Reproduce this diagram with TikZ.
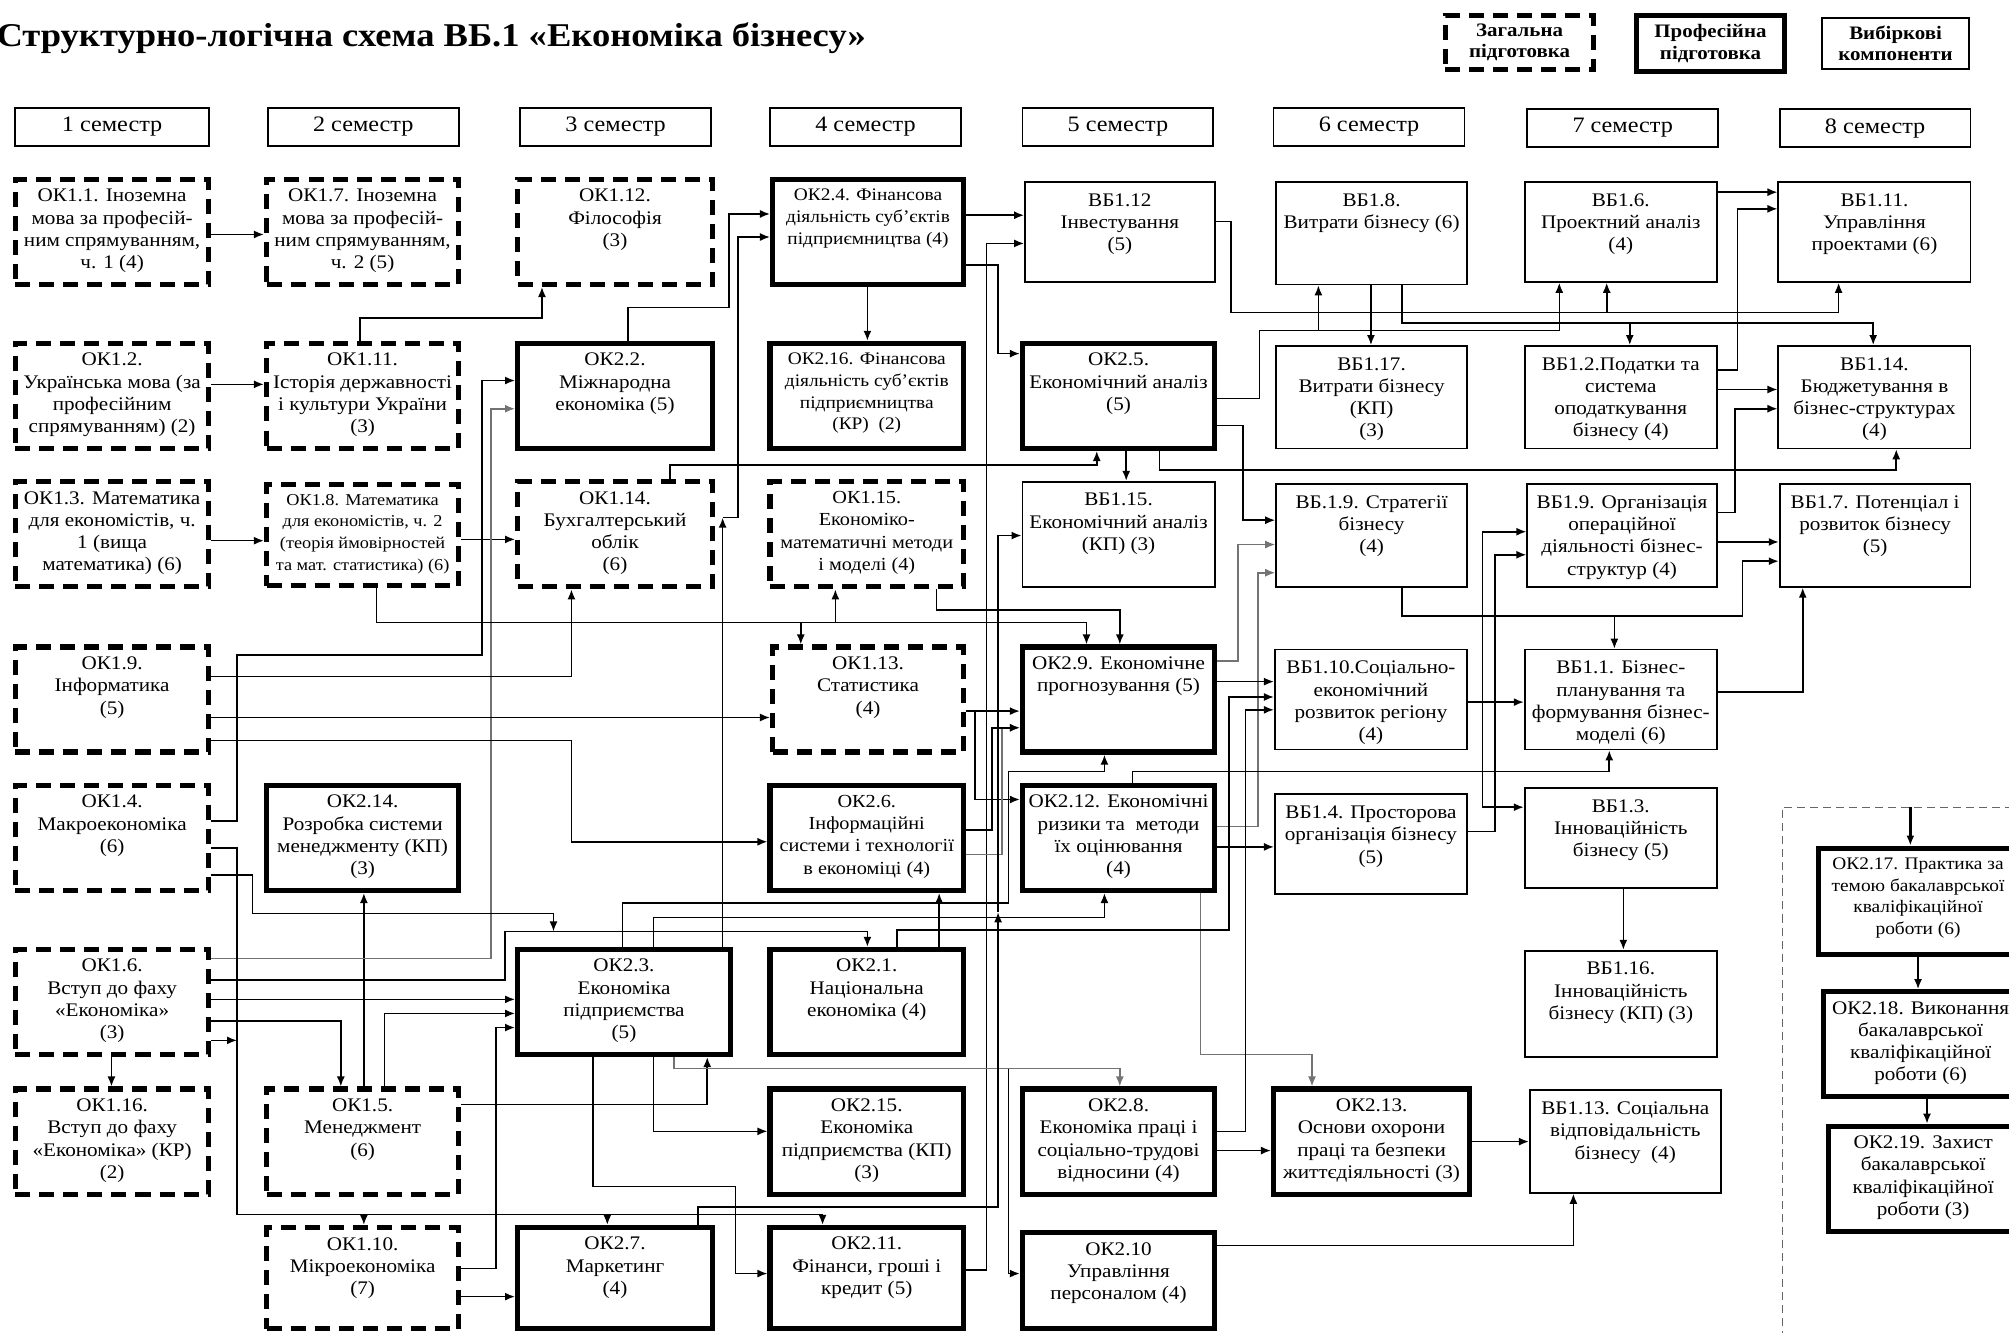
\documentclass[tikz,border=0pt]{standalone}
\usepackage{fontspec}
\setmainfont[FakeStretch=1.1]{Liberation Serif}
\usetikzlibrary{arrows.meta,fit}
\newcommand\bx[8][txt]{%
  \node[#7,fit={(#3,#4)(#5,#6)},inner sep=0pt] (#2) {};
  \node[#1,anchor=north] (#2-t) at ([yshift=-6pt]#2.north) {#8};}
\newcommand\hd[6]{%
  \node[#6,fit={(#2,#3)(#4,#5)},inner sep=0pt] (#1) {};}
\begin{document}
\begin{tikzpicture}[x=0.64pt,y=-0.64pt,
  gen/.style={draw,line width=2.6pt,dash pattern=on 7.5pt off 4.5pt},
  prof/.style={draw,line width=2.6pt},
  vib/.style={draw,line width=0.9pt},
  txt/.style={font=\fontsize{9.6}{11.1}\selectfont,align=center,inner sep=0pt},
  stxt/.style={font=\fontsize{8.8}{10.8}\selectfont,align=center,inner sep=0pt},
  sstxt/.style={font=\fontsize{8.3}{10.8}\selectfont,align=center,inner sep=0pt},
  mtxt/.style={font=\fontsize{9.2}{11.1}\selectfont,align=center,inner sep=0pt},
  htxt/.style={font=\fontsize{11}{13}\selectfont,inner sep=0pt},
  ltxt/.style={font=\bfseries\fontsize{9.5}{10.5}\selectfont,align=center,inner sep=0pt},
  con/.style={line width=0.8pt},
  arr/.style={line width=0.8pt,-{Latex[length=5pt,width=4pt]}},
  garr/.style={arr,draw=black!55},
]
\useasboundingbox (0,0) rectangle (1568,1040);
% title and legend
\node[anchor=west,font=\bfseries\fontsize{16.6}{20}\selectfont,inner sep=0pt] (title) at (-3,30) {Структурно-логічна схема ВБ.1 «Економіка бізнесу»};
\hd{lg1}{1128}{12}{1244}{54}{gen}
\hd{lg2}{1277}{12}{1393}{56}{prof}
\hd{lg3}{1422}{14}{1537}{54}{vib}
\node[ltxt] (lg1-t) at (lg1.center) {Загальна\\підготовка};
\node[ltxt] (lg2-t) at (lg2.center) {Професійна\\підготовка};
\node[ltxt] (lg3-t) at (lg3.center) {Вибіркові\\компоненти};
% semesters
\hd{s1}{12}{84}{163}{114}{vib}
\hd{s2}{209}{84}{358}{114}{vib}
\hd{s3}{406}{84}{555}{114}{vib}
\hd{s4}{601}{84}{750}{114}{vib}
\hd{s5}{798}{84}{947}{114}{vib}
\hd{s6}{994}{84}{1143}{114}{vib}
\hd{s7}{1192}{85}{1341}{115}{vib}
\hd{s8}{1389}{85}{1538}{115}{vib}
\node[htxt] (s1-t) at (s1.center) {1 семестр};
\node[htxt] (s2-t) at (s2.center) {2 семестр};
\node[htxt] (s3-t) at (s3.center) {3 семестр};
\node[htxt] (s4-t) at (s4.center) {4 семестр};
\node[htxt] (s5-t) at (s5.center) {5 семестр};
\node[htxt] (s6-t) at (s6.center) {6 семестр};
\node[htxt] (s7-t) at (s7.center) {7 семестр};
\node[htxt] (s8-t) at (s8.center) {8 семестр};
% row 1
\bx{ok11}{12}{140}{163}{222}{gen}{ОК1.1. Іноземна\\мова за професій-\\ним спрямуванням,\\ч. 1 (4)}
\bx{ok17}{208}{140}{358}{222}{gen}{ОК1.7. Іноземна\\мова за професій-\\ним спрямуванням,\\ч. 2 (5)}
\bx{ok112}{404}{140}{556}{222}{gen}{ОК1.12.\\Філософія\\(3)}
\bx[stxt]{ok24}{603}{140}{752}{222}{prof}{ОК2.4. Фінансова\\діяльність суб’єктів\\підприємництва (4)}
\bx{vb112}{800}{142}{948}{220}{vib}{ВБ1.12\\Інвестування\\(5)}
\bx{vb18}{996}{142}{1145}{222}{vib}{ВБ1.8.\\Витрати бізнесу (6)}
\bx{vb16}{1190}{142}{1340}{220}{vib}{ВБ1.6.\\Проектний аналіз\\(4)}
\bx{vb111}{1388}{142}{1538}{220}{vib}{ВБ1.11.\\Управління\\проектами (6)}
% row 2
\bx{ok12}{12}{268}{163}{350}{gen}{ОК1.2.\\Українська мова (за\\професійним\\спрямуванням) (2)}
\bx{ok111}{208}{268}{358}{350}{gen}{ОК1.11.\\Історія державності\\і культури України\\(3)}
\bx{ok22}{404}{268}{556}{350}{prof}{ОК2.2.\\Міжнародна\\економіка (5)}
\bx[stxt]{ok216}{601}{268}{752}{350}{prof}{ОК2.16. Фінансова\\діяльність суб’єктів\\підприємництва\\(КР)~~(2)}
\bx{ok25}{798}{268}{948}{350}{prof}{ОК2.5.\\Економічний аналіз\\(5)}
\bx{vb117}{996}{270}{1145}{350}{vib}{ВБ1.17.\\Витрати бізнесу\\(КП)\\(3)}
\bx{vb12}{1190}{270}{1340}{350}{vib}{ВБ1.2.Податки та\\система\\оподаткування\\бізнесу (4)}
\bx{vb114}{1388}{270}{1538}{350}{vib}{ВБ1.14.\\Бюджетування в\\бізнес-структурах\\(4)}
% row 3
\bx{ok13}{12}{376}{163}{458}{gen}{ОК1.3. Математика\\для економістів, ч.\\1 (вища\\математика) (6)}
\bx[sstxt]{ok18}{208}{378}{358}{457}{gen}{ОК1.8. Математика\\для економістів, ч. 2\\(теорія ймовірностей\\та мат. статистика) (6)}
\bx{ok114}{404}{376}{556}{458}{gen}{ОК1.14.\\Бухгалтерський\\облік\\(6)}
\bx[mtxt]{ok115}{601}{376}{752}{458}{gen}{ОК1.15.\\Економіко-\\математичні методи\\і моделі (4)}
\bx{vb115}{798}{376}{948}{458}{vib}{ВБ1.15.\\Економічний аналіз\\(КП) (3)}
\bx{vb19s}{996}{378}{1145}{458}{vib}{ВБ.1.9. Стратегії\\бізнесу\\(4)}
\bx{vb19o}{1192}{378}{1340}{458}{vib}{ВБ1.9. Організація\\операційної\\діяльності бізнес-\\структур (4)}
\bx{vb17}{1389}{378}{1538}{458}{vib}{ВБ1.7. Потенціал і\\розвиток бізнесу\\(5)}
% row 4
\bx{ok19}{12}{505}{163}{587}{gen}{ОК1.9.\\Інформатика\\(5)}
\bx{ok113}{603}{505}{752}{587}{gen}{ОК1.13.\\Статистика\\(4)}
\bx{ok29}{798}{505}{948}{587}{prof}{ОК2.9. Економічне\\прогнозування (5)}
\bx{vb110}{995}{507}{1145}{585}{vib}{ВБ1.10.Соціально-\\економічний\\розвиток регіону\\(4)}
\bx{vb11}{1190}{507}{1340}{585}{vib}{ВБ1.1. Бізнес-\\планування та\\формування бізнес-\\моделі (6)}
% row 5
\bx{ok14}{12}{613}{163}{695}{gen}{ОК1.4.\\Макроекономіка\\(6)}
\bx{ok214}{208}{613}{358}{695}{prof}{ОК2.14.\\Розробка системи\\менеджменту (КП)\\(3)}
\bx[mtxt]{ok26}{601}{613}{752}{695}{prof}{ОК2.6.\\Інформаційні\\системи і технології\\в економіці (4)}
\bx{ok212}{798}{613}{948}{695}{prof}{ОК2.12. Економічні\\ризики та~~методи\\їх оцінювання\\(4)}
\bx{vb14}{995}{620}{1145}{698}{vib}{ВБ1.4. Просторова\\організація бізнесу\\(5)}
\bx{vb13}{1190}{615}{1340}{693}{vib}{ВБ1.3.\\Інноваційність\\бізнесу (5)}
\bx[stxt]{ok217}{1419}{662}{1575}{745}{prof}{ОК2.17. Практика за\\темою бакалаврської\\кваліфікаційної\\роботи (6)}
% row 6
\bx{ok16}{12}{741}{163}{823}{gen}{ОК1.6.\\Вступ до фаху\\«Економіка»\\(3)}
\bx{ok23}{404}{741}{570}{823}{prof}{ОК2.3.\\Економіка\\підприємства\\(5)}
\bx{ok21}{601}{741}{752}{823}{prof}{ОК2.1.\\Національна\\економіка (4)}
\bx{vb116}{1190}{742}{1340}{825}{vib}{ВБ1.16.\\Інноваційність\\бізнесу (КП) (3)}
\bx{ok218}{1423}{774}{1575}{856}{prof}{ОК2.18. Виконання\\бакалаврської\\кваліфікаційної\\роботи (6)}
% row 7
\bx{ok116}{12}{850}{163}{932}{gen}{ОК1.16.\\Вступ до фаху\\«Економіка» (КР)\\(2)}
\bx{ok15}{208}{850}{358}{932}{gen}{ОК1.5.\\Менеджмент\\(6)}
\bx{ok215}{601}{850}{752}{932}{prof}{ОК2.15.\\Економіка\\підприємства (КП)\\(3)}
\bx{ok28}{798}{850}{948}{932}{prof}{ОК2.8.\\Економіка праці і\\соціально-трудові\\відносини (4)}
\bx{ok213}{994}{850}{1147}{932}{prof}{ОК2.13.\\Основи охорони\\праці та безпеки\\життєдіяльності (3)}
\bx{vb113}{1194}{851}{1343}{931}{vib}{ВБ1.13. Соціальна\\відповідальність\\бізнесу~~(4)}
\bx{ok219}{1427}{879}{1575}{961}{prof}{ОК2.19. Захист\\бакалаврської\\кваліфікаційної\\роботи (3)}
% row 8
\bx{ok110}{208}{958}{358}{1037}{gen}{ОК1.10.\\Мікроекономіка\\(7)}
\bx{ok27}{404}{958}{556}{1037}{prof}{ОК2.7.\\Маркетинг\\(4)}
\bx{ok211}{601}{958}{752}{1037}{prof}{ОК2.11.\\Фінанси, гроші і\\кредит (5)}
\bx{ok210}{798}{962}{948}{1037}{prof}{ОК2.10\\Управління\\персоналом (4)}
% practice region
\draw[black!60,dash pattern=on 4pt off 2.5pt,line width=0.6pt] (1391,1045) -- (1391,630) -- (1575,630);
\coordinate (dr) at (1491,630);
\draw[arr,line width=1.3pt] (dr) -- (ok217.north -| dr);
\draw[arr] (ok217.south -| 1497,0) -- (ok218.north -| 1497,0);
\draw[arr] (ok218.south -| 1504,0) -- (ok219.north -| 1504,0);
% connectors: columns 1-4 top
\draw[arr] (ok11.east |- 0,183) -- (ok17.west |- 0,183);
\draw[arr] (ok12.east |- 0,300) -- (ok111.west |- 0,300);
\draw[arr] (ok13.east |- 0,422) -- (ok18.west |- 0,422);
\draw[arr] (ok18.east |- 0,421) -- (ok114.west |- 0,421);
\draw[arr] (ok111.north -| 281,0) -- (281,248) -- (423,248) -- (ok112.south -| 423,0);
\draw[arr] (ok22.north -| 490,0) -- (490,240) -- (569,240) -- (569,167) -- (ok24.west |- 0,167);
\coordinate (m1) at (564,404);
\draw[arr] (ok23.north -| m1) -- (m1);
\draw[arr] (m1) -- (576,404) -- (576,185) -- (ok24.west |- 0,185);
\draw[arr] (ok24.east |- 0,168) -- (vb112.west |- 0,168);
\draw[arr] (ok211.east |- 0,991) -- (770,991) -- (770,190) -- (vb112.west |- 0,190);
\draw[arr] (ok24.east |- 0,207) -- (779,207) -- (779,276) -- (ok25.west |- 0,276);
\draw[arr] (ok24.south -| 677,0) -- (ok216.north -| 677,0);
% top right
\coordinate (j1) at (1254,244);
\draw[arr] (vb112.east |- 0,173) -- (961,173) -- (961,244) -- (1435,244) -- (vb111.south -| 1435,0);
\draw[arr] (j1) -- (vb16.south -| j1);
\coordinate (j2) at (1029,258);
\draw[arr] (ok25.east |- 0,311) -- (983,311) -- (983,258) -- (1217,258) -- (vb16.south -| 1217,0);
\draw[arr] (j2) -- (vb18.south -| j2);
\draw[arr] (vb18.south -| 1070,0) -- (vb117.north -| 1070,0);
\coordinate (j3) at (1272,252);
\draw[arr] (vb18.south -| 1094,0) -- (1094,252) -- (1462,252) -- (vb114.north -| 1462,0);
\draw[arr] (j3) -- (vb12.north -| j3);
\draw[arr] (vb16.east |- 0,150) -- (vb111.west |- 0,150);
\draw[arr] (vb12.east |- 0,289) -- (1356,289) -- (1356,163) -- (vb111.west |- 0,163);
\draw[arr] (vb12.east |- 0,304) -- (vb114.west |- 0,304);
\draw[arr] (vb19o.east |- 0,400) -- (1354,400) -- (1354,319) -- (vb114.west |- 0,319);
\draw[arr] (ok25.south -| 905,0) -- (905,367) -- (1480,367) -- (vb114.south -| 1480,0);
\draw[arr] (ok114.north -| 523,0) -- (523,363) -- (856,363) -- (ok25.south -| 856,0);
\draw[arr] (ok25.south -| 879,0) -- (vb115.north -| 879,0);
\draw[arr] (ok25.east |- 0,332) -- (970,332) -- (970,406) -- (vb19s.west |- 0,406);
\draw[garr] (ok29.east |- 0,516) -- (966,516) -- (966,425) -- (vb19s.west |- 0,425);
\draw[garr] (ok212.east |- 0,645) -- (982,645) -- (982,447) -- (vb19s.west |- 0,447);
\draw[arr] (vb19o.east |- 0,423) -- (vb17.west |- 0,423);
\coordinate (j4) at (1260,481);
\draw[arr] (vb19s.south -| 1094,0) -- (1094,481) -- (1360,481) -- (1360,438) -- (vb17.west |- 0,438);
\draw[arr] (j4) -- (vb11.north -| j4);
\draw[arr] (vb11.east |- 0,540) -- (1407,540) -- (vb17.south -| 1407,0);
\draw[arr] (vb110.east |- 0,548) -- (vb11.west |- 0,548);
\coordinate (j5) at (1157,548);
\draw[arr] (j5) -- (1157,415) -- (vb19o.west |- 0,415);
\draw[arr] (j5) -- (1157,630) -- (vb13.west |- 0,630);
\draw[arr] (vb14.east |- 0,649) -- (1167,649) -- (1167,433) -- (vb19o.west |- 0,433);
\draw[arr] (ok212.north -| 884,0) -- (884,602) -- (1256,602) -- (vb11.south -| 1256,0);
\draw[arr] (vb13.south -| 1267,0) -- (vb116.north -| 1267,0);
% bottom right
\draw[arr] (ok213.east |- 0,891) -- (vb113.west |- 0,891);
\draw[arr] (ok210.east |- 0,972) -- (1228,972) -- (vb113.south -| 1228,0);
\draw[arr] (ok28.east |- 0,898) -- (ok213.west |- 0,898);
\draw[garr] (ok212.south -| 937,0) -- (937,823) -- (1024,823) -- (ok213.north -| 1024,0);
\draw[arr] (ok28.east |- 0,883) -- (972,883) -- (972,554) -- (vb110.west |- 0,554);
\draw[arr] (ok29.east |- 0,532) -- (vb110.west |- 0,532);
\draw[arr] (ok21.north -| 700,0) -- (700,726) -- (959,726) -- (959,544) -- (vb110.west |- 0,544);
\draw[arr] (ok212.east |- 0,661) -- (vb14.west |- 0,661);
% middle
\draw[arr] (ok113.east |- 0,555) -- (ok29.west |- 0,555);
\draw[arr] (ok113.east |- 0,555) -- (761,555) -- (761,624) -- (ok212.west |- 0,624);
\draw[garr] (ok26.east |- 0,667) -- (782,667) -- (782,568) -- (ok29.west |- 0,568);
\draw[arr] (ok26.east |- 0,648) -- (774,648) -- (774,568) -- (ok29.west |- 0,568);
\draw[arr] (ok23.north -| 486,0) -- (486,705) -- (787,705) -- (787,602) -- (862,602) -- (ok29.south -| 862,0);
\draw[arr] (ok23.north -| 510,0) -- (510,716) -- (862,716) -- (ok212.south -| 862,0);
\draw[arr] (ok21.north -| 733,0) -- (ok26.south -| 733,0);
\draw[arr] (ok16.east |- 0,765) -- (394,765) -- (394,727) -- (677,727) -- (ok21.north -| 677,0);
\draw[arr] (ok110.east |- 0,990) -- (387,990) -- (387,802) -- (ok23.west |- 0,802);
\draw[arr] (ok16.east |- 0,780) -- (ok23.west |- 0,780);
\draw[arr] (ok15.north -| 300,0) -- (300,791) -- (ok23.west |- 0,791);
\draw[arr] (ok16.east |- 0,797) -- (266,797) -- (ok15.north -| 266,0);
\draw[arr] (ok15.north -| 284,0) -- (ok214.south -| 284,0);
\draw[arr] (ok15.east |- 0,862) -- (552,862) -- (ok23.south -| 552,0);
\draw[garr] (ok16.east |- 0,748) -- (383,748) -- (383,319) -- (ok22.west |- 0,319);
\draw[arr] (ok14.east |- 0,641) -- (185,641) -- (185,511) -- (376,511) -- (376,297) -- (ok22.west |- 0,297);
\coordinate (b1) at (284,948);
\coordinate (b2) at (474,948);
\draw[arr] (ok14.east |- 0,662) -- (185,662) -- (185,948) -- (642,948) -- (ok211.north -| 642,0);
\draw[arr] (b1) -- (ok110.north -| b1);
\draw[arr] (b2) -- (ok27.north -| b2);
\coordinate (b3) at (185,812);
\draw[arr] (ok16.east |- 0,812) -- (b3);
\coordinate (a1) at (432,727);
\draw[arr] (ok14.east |- 0,683) -- (197,683) -- (197,713) -- (432,713) -- (a1);
\draw[arr] (ok19.east |- 0,528) -- (446,528) -- (ok114.south -| 446,0);
\draw[arr] (ok19.east |- 0,560) -- (ok113.west |- 0,560);
\draw[arr] (ok19.east |- 0,578) -- (446,578) -- (446,657) -- (ok26.west |- 0,657);
\coordinate (k1) at (625,486);
\coordinate (k2) at (652,486);
\draw[arr] (ok18.south -| 294,0) -- (294,486) -- (848,486) -- (ok29.north -| 848,0);
\draw[arr] (k1) -- (ok113.north -| k1);
\draw[arr] (k2) -- (ok115.south -| k2);
\draw[arr] (ok115.south -| 731,0) -- (731,476) -- (874,476) -- (ok29.north -| 874,0);
\draw[arr] (ok23.south -| 510,0) -- (510,883) -- (ok215.west |- 0,883);
\draw[arr] (ok23.south -| 463,0) -- (463,926) -- (574,926) -- (574,994) -- (ok211.west |- 0,994);
\coordinate (k3) at (787,834);
\draw[garr] (ok23.south -| 526,0) -- (526,834) -- (874,834) -- (ok28.north -| 874,0);
\draw[arr] (k3) -- (787,994) -- (ok210.west |- 0,994);
\coordinate (m2) at (779,712);
\draw[arr] (ok27.north -| 545,0) -- (545,942) -- (779,942) -- (m2);
\draw[arr] (m2) -- (779,418) -- (vb115.west |- 0,418);
\draw[arr] (ok110.east |- 0,1012) -- (ok27.west |- 0,1012);
\draw[arr] (ok16.south -| 87,0) -- (ok116.north -| 87,0);
\end{tikzpicture}
\end{document}
